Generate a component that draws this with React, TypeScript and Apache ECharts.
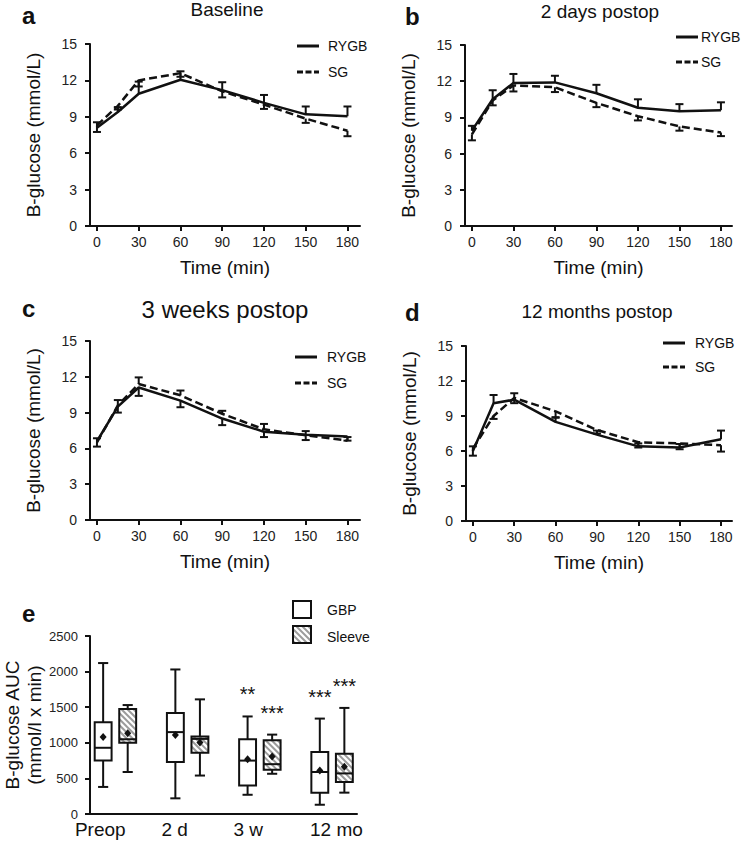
import React, { useEffect, useRef } from 'react';
import * as echarts from 'echarts';

const FONT = '"Liberation Sans", Arial, Helvetica, sans-serif';
const INK = '#111';

// ---------- data: OGTT curves ----------
const times = [0, 15, 30, 60, 90, 120, 150, 180];
const timeTicks = [0, 30, 60, 90, 120, 150, 180];
const seriesNames = ['RYGB', 'SG'];

const baselineRYGB = [8.1, 9.4, 10.9, 12.05, 11.2, 10.15, 9.2, 9.05];
const baselineRYGBsem = [0.45, 0.4, 1.0, 0.7, 0.65, 0.65, 0.65, 0.8];
const baselineSG = [8.3, 9.9, 12.0, 12.6, 11.1, 10.0, 8.85, 7.85];
const baselineSGsem = [0.55, 0.3, 0.5, 0.3, 0.5, 0.35, 0.35, 0.45];

const day2RYGB = [7.9, 10.5, 11.85, 11.9, 11.0, 9.8, 9.5, 9.6];
const day2RYGBsem = [0.4, 0.75, 0.75, 0.55, 0.7, 0.7, 0.6, 0.65];
const day2SG = [7.6, 10.4, 11.65, 11.5, 10.2, 9.1, 8.25, 7.75];
const day2SGsem = [0.5, 0.4, 0.5, 0.4, 0.35, 0.35, 0.35, 0.3];

const week3RYGB = [6.6, 9.5, 11.1, 10.0, 8.5, 7.4, 7.15, 7.0];
const week3RYGBsem = [0.45, 0.5, 0.7, 0.55, 0.55, 0.45, 0.45, 0.35];
const week3SG = [6.5, 9.6, 11.4, 10.45, 8.9, 7.6, 7.1, 6.65];
const week3SGsem = [0.35, 0.45, 0.55, 0.4, 0.25, 0.45, 0.35, 0.3];

const month12RYGB = [6.0, 10.1, 10.4, 8.5, 7.4, 6.4, 6.3, 7.0];
const month12RYGBsem = [0.4, 0.7, 0.55, 0.4, 0.35, 0.25, 0.3, 0.75];
const month12SG = [6.2, 9.0, 10.55, 9.4, 7.8, 6.75, 6.65, 6.5];
const month12SGsem = [0.6, 0.25, 0.45, 0.55, 0.3, 0.45, 0.5, 0.55];

// ---------- data: AUC box plots ----------
const boxCats = ['Preop', '2 d', '3 w', '12 mo'];
const boxGroups = ['GBP', 'Sleeve'];
const gbpMin = [380, 220, 270, 130];
const gbpQ1 = [750, 730, 400, 300];
const gbpMed = [930, 1150, 750, 590];
const gbpQ3 = [1290, 1420, 1050, 870];
const gbpMax = [2120, 2030, 1370, 1340];
const gbpMean = [1080, 1110, 770, 610];
const gbpSig = ['', '', '**', '***'];

const sleeveMin = [590, 540, 565, 300];
const sleeveQ1 = [1000, 860, 620, 450];
const sleeveMed = [1050, 1055, 700, 570];
const sleeveQ3 = [1475, 1090, 1035, 845];
const sleeveMax = [1530, 1610, 1115, 1490];
const sleeveMean = [1135, 1005, 808, 665];
const sleeveSig = ['', '', '***', '***'];

// ---------- layout ----------
const panels = [
  {
    key: 'a', title: 'Baseline', titleSize: 19, titleX: 227, titleY: 0, letterX: 22, letterY: 3,
    grid: { left: 90, top: 44, width: 270, height: 182 }, xMax: 189,
    legend: { x: 297, y: 46, gap: 26, textX: 328 },
    rygb: baselineRYGB, rygbSem: baselineRYGBsem, rygbDir: 1,
    sg: baselineSG, sgSem: baselineSGsem, sgDir: -1,
  },
  {
    key: 'b', title: '2 days postop', titleSize: 19, titleX: 600, titleY: 2, letterX: 405, letterY: 4,
    grid: { left: 465, top: 45, width: 267, height: 181 }, xMax: 188,
    legend: { x: 676, y: 37, gap: 25, textX: 701 },
    rygb: day2RYGB, rygbSem: day2RYGBsem, rygbDir: 1,
    sg: day2SG, sgSem: day2SGsem, sgDir: -1,
  },
  {
    key: 'c', title: '3 weeks postop', titleSize: 24, titleX: 225, titleY: 297, letterX: 22, letterY: 296,
    grid: { left: 90, top: 341, width: 270, height: 179 }, xMax: 189,
    legend: { x: 295, y: 357, gap: 26, textX: 327 },
    rygb: week3RYGB, rygbSem: week3RYGBsem, rygbDir: -1,
    sg: week3SG, sgSem: week3SGsem, sgDir: 1,
  },
  {
    key: 'd', title: '12 months postop', titleSize: 19, titleX: 597, titleY: 302, letterX: 405, letterY: 300,
    grid: { left: 466, top: 346, width: 266, height: 175 }, xMax: 188,
    legend: { x: 663, y: 343, gap: 24, textX: 695 },
    rygb: month12RYGB, rygbSem: month12RYGBsem, rygbDir: 1,
    sg: month12SG, sgSem: month12SGsem, sgDir: -1,
  },
];

const boxGrid = { left: 89, top: 636, width: 268, height: 178 };
const boxXMin = -0.352;
const boxXMax = 3.345;
const groupOffset = 0.17;
const boxWidthUnits = 0.234;
const catLabelShift = [-0.21, -0.18, -0.16, 0.06];

const axisLineStyle = { color: INK, width: 2 };

function hatch(x0: number, y0: number, w: number, h: number, step: number) {
  const segs: number[][] = [];
  for (let c = -w + step / 2; c < h; c += step) {
    const xs = Math.max(0, -c);
    const xe = Math.min(w, h - c);
    if (xe > xs) segs.push([x0 + xs, y0 + xs + c, x0 + xe, y0 + xe + c]);
  }
  return segs;
}

function errRenderer(dir: number) {
  return (params: any, api: any) => {
    const x = api.value(0);
    const m = api.value(1);
    const s = api.value(2);
    const p0 = api.coord([x, m]);
    const p1 = api.coord([x, m + dir * s]);
    const st = { stroke: INK, lineWidth: 2 };
    return {
      type: 'group',
      children: [
        { type: 'line', shape: { x1: p0[0], y1: p0[1], x2: p1[0], y2: p1[1] }, style: st },
        { type: 'line', shape: { x1: p1[0] - 4, y1: p1[1], x2: p1[0] + 4, y2: p1[1] }, style: st },
      ],
    };
  };
}

function boxRenderer(offset: number, hatched: boolean, sig: string[]) {
  return (params: any, api: any) => {
    const i = api.value(0);
    const xc = i + offset;
    const pMin = api.coord([xc, api.value(1)]);
    const pQ1 = api.coord([xc, api.value(2)]);
    const pMed = api.coord([xc, api.value(3)]);
    const pQ3 = api.coord([xc, api.value(4)]);
    const pMax = api.coord([xc, api.value(5)]);
    const pMean = api.coord([xc, api.value(6)]);
    const bw = api.size([boxWidthUnits, 0])[0];
    const cx = pQ1[0];
    const x0 = cx - bw / 2;
    const st = { stroke: INK, lineWidth: 2 };
    const cap = bw * 0.3;
    const children: any[] = [
      { type: 'line', shape: { x1: cx, y1: pMax[1], x2: cx, y2: pQ3[1] }, style: st },
      { type: 'line', shape: { x1: cx, y1: pQ1[1], x2: cx, y2: pMin[1] }, style: st },
      { type: 'line', shape: { x1: cx - cap, y1: pMax[1], x2: cx + cap, y2: pMax[1] }, style: st },
      { type: 'line', shape: { x1: cx - cap, y1: pMin[1], x2: cx + cap, y2: pMin[1] }, style: st },
      { type: 'rect', shape: { x: x0, y: pQ3[1], width: bw, height: pQ1[1] - pQ3[1] }, style: { fill: '#fff' } },
    ];
    if (hatched) {
      hatch(x0, pQ3[1], bw, pQ1[1] - pQ3[1], 6).forEach((s) => {
        children.push({ type: 'line', shape: { x1: s[0], y1: s[1], x2: s[2], y2: s[3] }, style: { stroke: '#9c9c9c', lineWidth: 2 } });
      });
    }
    children.push(
      { type: 'rect', shape: { x: x0, y: pQ3[1], width: bw, height: pQ1[1] - pQ3[1] }, style: { fill: 'none', stroke: INK, lineWidth: 2 } },
      { type: 'line', shape: { x1: x0, y1: pMed[1], x2: x0 + bw, y2: pMed[1] }, style: st },
      {
        type: 'polygon',
        shape: { points: [[cx, pMean[1] - 4], [cx + 3.5, pMean[1]], [cx, pMean[1] + 4], [cx - 3.5, pMean[1]]] },
        style: { fill: INK },
      }
    );
    const s = sig[i];
    if (s) {
      children.push({
        type: 'text', x: cx, y: pMax[1] - 22,
        style: { text: s, fontSize: 20, fontFamily: FONT, fill: INK, align: 'center', verticalAlign: 'middle' },
      });
    }
    return { type: 'group', children };
  };
}

function buildOption() {
  const grids: any[] = [];
  const xAxes: any[] = [];
  const yAxes: any[] = [];
  const series: any[] = [];
  const titles: any[] = [];
  const graphic: any[] = [];

  panels.forEach((p, gi) => {
    grids.push({ ...p.grid, containLabel: false });
    xAxes.push({
      type: 'value', gridIndex: gi, min: -5, max: p.xMax,
      axisLine: { show: true, onZero: false, lineStyle: axisLineStyle },
      axisTick: { show: true, length: 5, lineStyle: axisLineStyle, customValues: timeTicks },
      axisLabel: { customValues: timeTicks, fontSize: 14, color: '#222', margin: 9, fontFamily: FONT },
      splitLine: { show: false },
      name: 'Time (min)', nameLocation: 'middle', nameGap: 32,
      nameTextStyle: { fontSize: 19, color: INK, fontFamily: FONT },
    });
    yAxes.push({
      type: 'value', gridIndex: gi, min: 0, max: 15, interval: 3,
      axisLine: { show: true, onZero: false, lineStyle: axisLineStyle },
      axisTick: { show: true, length: 5, lineStyle: axisLineStyle },
      axisLabel: { fontSize: 14, color: '#222', margin: 13, fontFamily: FONT },
      splitLine: { show: false },
      name: 'B-glucose (mmol/L)', nameLocation: 'middle', nameGap: 47,
      nameTextStyle: { fontSize: 19, color: INK, fontFamily: FONT },
    });
    series.push(
      {
        type: 'line', name: seriesNames[0], xAxisIndex: gi, yAxisIndex: gi, symbol: 'none',
        data: times.map((t, k) => [t, p.rygb[k]]),
        lineStyle: { color: INK, width: 2.5, type: 'solid' }, itemStyle: { color: INK }, z: 3,
      },
      {
        type: 'line', name: seriesNames[1], xAxisIndex: gi, yAxisIndex: gi, symbol: 'none',
        data: times.map((t, k) => [t, p.sg[k]]),
        lineStyle: { color: INK, width: 2.5, type: [8, 4] }, itemStyle: { color: INK }, z: 3,
      },
      {
        type: 'custom', name: 'RYGB SEM', xAxisIndex: gi, yAxisIndex: gi,
        data: times.map((t, k) => [t, p.rygb[k], p.rygbSem[k]]),
        encode: { x: 0, y: 1 }, renderItem: errRenderer(p.rygbDir), z: 4,
      },
      {
        type: 'custom', name: 'SG SEM', xAxisIndex: gi, yAxisIndex: gi,
        data: times.map((t, k) => [t, p.sg[k], p.sgSem[k]]),
        encode: { x: 0, y: 1 }, renderItem: errRenderer(p.sgDir), z: 4,
      }
    );
    titles.push(
      {
        text: p.title, left: p.titleX, top: p.titleY, textAlign: 'center', padding: 0,
        textStyle: { fontSize: p.titleSize, fontWeight: 'normal', color: INK, fontFamily: FONT },
      },
      {
        text: p.key, left: p.letterX, top: p.letterY, padding: 0,
        textStyle: { fontSize: 24, fontWeight: 'bold', color: INK, fontFamily: FONT },
      }
    );
    // legend (line keys)
    const L = p.legend;
    seriesNames.forEach((nm, k) => {
      const y = L.y + k * L.gap;
      graphic.push(
        {
          type: 'line', shape: { x1: L.x, y1: y, x2: L.x + 22, y2: y },
          style: { stroke: INK, lineWidth: 3, lineDash: k === 0 ? null : [6, 2.5] },
        },
        {
          type: 'text', x: L.textX, y,
          style: { text: nm, fontSize: 14, fontFamily: FONT, fill: INK, verticalAlign: 'middle' },
        }
      );
    });
  });

  // panel e
  const ei = panels.length;
  grids.push({ ...boxGrid, containLabel: false });
  const labelVals = boxCats.map((_, i) => i + catLabelShift[i]);
  xAxes.push({
    type: 'value', gridIndex: ei, min: boxXMin, max: boxXMax,
    axisLine: { show: true, onZero: false, lineStyle: axisLineStyle },
    axisTick: { show: false },
    axisLabel: {
      customValues: labelVals, fontSize: 19, color: INK, margin: 6, fontFamily: FONT,
      formatter: (v: number) => {
        let best = 0;
        labelVals.forEach((lv, i) => { if (Math.abs(lv - v) < Math.abs(labelVals[best] - v)) best = i; });
        return boxCats[best];
      },
    },
    splitLine: { show: false },
  });
  yAxes.push({
    type: 'value', gridIndex: ei, min: 0, max: 2500, interval: 500,
    axisLine: { show: true, onZero: false, lineStyle: axisLineStyle },
    axisTick: { show: true, length: 5, lineStyle: axisLineStyle },
    axisLabel: { fontSize: 13, color: '#222', margin: 12, fontFamily: FONT, formatter: (v: number) => String(v) },
    splitLine: { show: false },
    name: 'B-glucose AUC\n(mmol/l x min)', nameLocation: 'middle', nameGap: 45,
    nameTextStyle: { fontSize: 19, lineHeight: 22, color: INK, fontFamily: FONT },
  });
  series.push(
    {
      type: 'custom', name: boxGroups[0], xAxisIndex: ei, yAxisIndex: ei,
      data: boxCats.map((_, i) => [i, gbpMin[i], gbpQ1[i], gbpMed[i], gbpQ3[i], gbpMax[i], gbpMean[i]]),
      encode: { x: 0, y: [1, 5] }, renderItem: boxRenderer(-groupOffset, false, gbpSig),
    },
    {
      type: 'custom', name: boxGroups[1], xAxisIndex: ei, yAxisIndex: ei,
      data: boxCats.map((_, i) => [i, sleeveMin[i], sleeveQ1[i], sleeveMed[i], sleeveQ3[i], sleeveMax[i], sleeveMean[i]]),
      encode: { x: 0, y: [1, 5] }, renderItem: boxRenderer(groupOffset, true, sleeveSig),
    }
  );
  titles.push({
    text: 'e', left: 22, top: 601, padding: 0,
    textStyle: { fontSize: 24, fontWeight: 'bold', color: INK, fontFamily: FONT },
  });

  // legend for panel e (box swatches)
  const lg = { x: 293, y1: 601, y2: 626, w: 18, h: 17 };
  graphic.push(
    { type: 'rect', shape: { x: lg.x, y: lg.y1, width: lg.w, height: lg.h }, style: { fill: '#fff', stroke: INK, lineWidth: 2 } },
    { type: 'rect', shape: { x: lg.x, y: lg.y2, width: lg.w, height: lg.h }, style: { fill: '#fff' } }
  );
  hatch(lg.x, lg.y2, lg.w, lg.h, 6).forEach((s) => {
    graphic.push({ type: 'line', shape: { x1: s[0], y1: s[1], x2: s[2], y2: s[3] }, style: { stroke: '#9c9c9c', lineWidth: 2 } });
  });
  graphic.push(
    { type: 'rect', shape: { x: lg.x, y: lg.y2, width: lg.w, height: lg.h }, style: { fill: 'none', stroke: INK, lineWidth: 2 } },
    { type: 'text', x: 327, y: lg.y1 + lg.h / 2, style: { text: boxGroups[0], fontSize: 14, fontFamily: FONT, fill: INK, verticalAlign: 'middle' } },
    { type: 'text', x: 327, y: lg.y2 + lg.h / 2 + 2, style: { text: boxGroups[1], fontSize: 14, fontFamily: FONT, fill: INK, verticalAlign: 'middle' } }
  );

  return {
    animation: false,
    backgroundColor: '#fff',
    textStyle: { fontFamily: FONT },
    title: titles,
    grid: grids,
    xAxis: xAxes,
    yAxis: yAxes,
    series,
    graphic,
  };
}

export default function App() {
  const ref = useRef<HTMLDivElement>(null);
  useEffect(() => {
    if (!ref.current) return;
    const chart = echarts.init(ref.current, undefined, { renderer: 'svg' });
    chart.setOption(buildOption() as any);
    return () => chart.dispose();
  }, []);
  return (
    <div
      ref={ref}
      style={{ position: 'absolute', left: 0, top: 0, width: 742, height: 842, background: '#fff' }}
    />
  );
}
